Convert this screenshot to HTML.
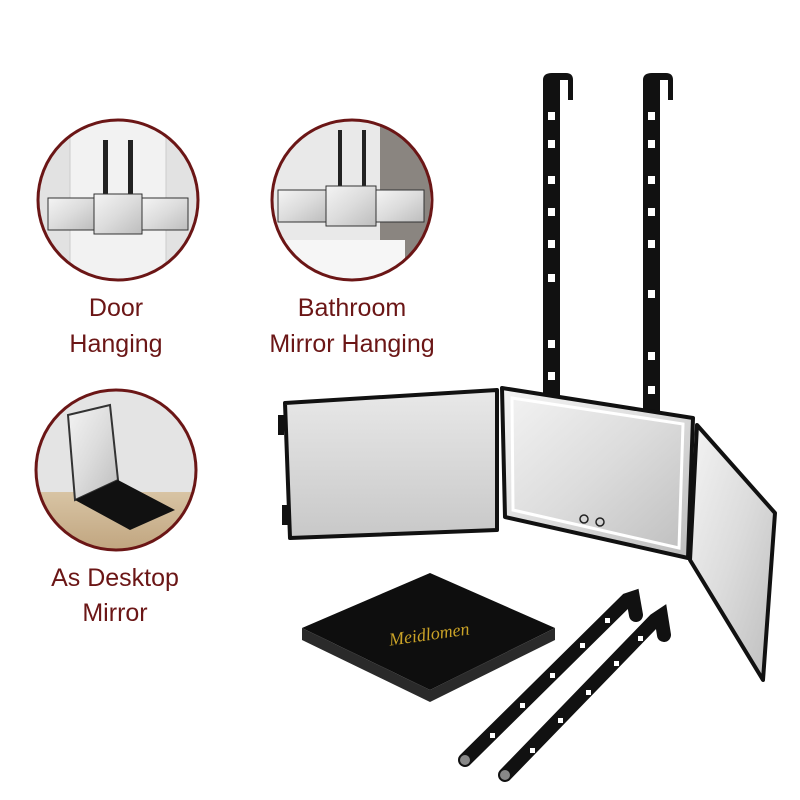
<!DOCTYPE html>
<html><head><meta charset="utf-8"><style>
html,body{margin:0;padding:0;background:#fff;width:800px;height:800px;overflow:hidden}
svg{display:block}
text{font-family:"Liberation Sans",sans-serif;fill:#6b1616;font-size:25px;text-anchor:middle}
</style></head><body>
<svg width="800" height="800" viewBox="0 0 800 800">
<defs>
<linearGradient id="mg" x1="0" y1="0" x2="1" y2="1">
<stop offset="0" stop-color="#f4f4f4"/><stop offset="0.5" stop-color="#dcdcdc"/><stop offset="1" stop-color="#bdbdbd"/></linearGradient>
<linearGradient id="bg1" x1="0" y1="0" x2="0" y2="1">
<stop offset="0" stop-color="#e8e8e8"/><stop offset="1" stop-color="#c8c8c8"/></linearGradient>
<linearGradient id="wood" x1="0" y1="0" x2="0" y2="1">
<stop offset="0" stop-color="#d8c4a4"/><stop offset="1" stop-color="#b89a72"/></linearGradient>
<clipPath id="c1"><circle cx="118" cy="200" r="80"/></clipPath>
<clipPath id="c2"><circle cx="352" cy="200" r="80"/></clipPath>
<clipPath id="c3"><circle cx="116" cy="470" r="80"/></clipPath>
</defs>

<!-- circle 1 -->
<g clip-path="url(#c1)">
<rect x="30" y="110" width="180" height="180" fill="#e2e2e2"/>
<rect x="70" y="120" width="96" height="170" fill="#f2f2f2" stroke="#ccc"/>
<rect x="103" y="140" width="5" height="60" fill="#222"/><rect x="128" y="140" width="5" height="60" fill="#222"/>
<rect x="48" y="198" width="46" height="32" fill="url(#mg)" stroke="#333"/>
<rect x="94" y="194" width="48" height="40" fill="url(#mg)" stroke="#333"/>
<rect x="142" y="198" width="46" height="32" fill="url(#mg)" stroke="#333"/>
</g>
<circle cx="118" cy="200" r="80" fill="none" stroke="#6b1616" stroke-width="3"/>

<!-- circle 2 -->
<g clip-path="url(#c2)">
<rect x="260" y="110" width="180" height="180" fill="#e9e9e9"/>
<rect x="380" y="120" width="50" height="150" fill="#8a8580"/>
<rect x="285" y="240" width="120" height="60" fill="#f6f6f6"/>
<rect x="338" y="130" width="4" height="60" fill="#222"/><rect x="362" y="130" width="4" height="60" fill="#222"/>
<rect x="278" y="190" width="48" height="32" fill="url(#mg)" stroke="#333"/>
<rect x="326" y="186" width="50" height="40" fill="url(#mg)" stroke="#333"/>
<rect x="376" y="190" width="48" height="32" fill="url(#mg)" stroke="#333"/>
</g>
<circle cx="352" cy="200" r="80" fill="none" stroke="#6b1616" stroke-width="3"/>

<!-- circle 3 -->
<g clip-path="url(#c3)">
<rect x="30" y="385" width="180" height="180" fill="#e4e4e4"/>
<rect x="30" y="492" width="180" height="80" fill="url(#wood)"/>
<polygon points="68,415 110,405 118,480 75,500" fill="url(#mg)" stroke="#333" stroke-width="2"/>
<polygon points="75,500 118,480 175,510 130,530" fill="#111"/>
</g>
<circle cx="116" cy="470" r="80" fill="none" stroke="#6b1616" stroke-width="3"/>

<text x="116" y="316">Door</text>
<text x="116" y="352">Hanging</text>
<text x="352" y="316">Bathroom</text>
<text x="352" y="352">Mirror Hanging</text>
<text x="115" y="586">As Desktop</text>
<text x="115" y="621">Mirror</text>

<!-- hanging straps -->
<g fill="#111">
<path d="M543,80 Q543,73 552,73 L566,73 Q573,73 573,80 L573,100 L568,100 L568,80 L560,80 L560,398 L543,398 Z"/>
<path d="M643,80 Q643,73 652,73 L666,73 Q673,73 673,80 L673,100 L668,100 L668,80 L660,80 L660,412 L643,412 Z"/>
</g>
<g fill="#fff">
<rect x="548" y="112" width="7" height="8"/><rect x="548" y="140" width="7" height="8"/><rect x="548" y="176" width="7" height="8"/><rect x="548" y="208" width="7" height="8"/><rect x="548" y="240" width="7" height="8"/><rect x="548" y="274" width="7" height="8"/><rect x="548" y="340" width="7" height="8"/><rect x="548" y="372" width="7" height="8"/>
<rect x="648" y="112" width="7" height="8"/><rect x="648" y="140" width="7" height="8"/><rect x="648" y="176" width="7" height="8"/><rect x="648" y="208" width="7" height="8"/><rect x="648" y="240" width="7" height="8"/><rect x="648" y="290" width="7" height="8"/><rect x="648" y="352" width="7" height="8"/><rect x="648" y="386" width="7" height="8"/>
</g>

<!-- mirror panels -->
<polygon points="285,403 497,390 497,530 290,538" fill="url(#bg1)" stroke="#111" stroke-width="4" stroke-linejoin="round"/>
<rect x="278" y="415" width="6" height="20" fill="#111"/><rect x="282" y="505" width="6" height="20" fill="#111"/>
<polygon points="502,388 693,418 688,558 505,517" fill="url(#mg)" stroke="#111" stroke-width="4" stroke-linejoin="round"/>
<polygon points="512,398 683,424 679,548 513,510" fill="none" stroke="#fff" stroke-width="3"/>
<circle cx="584" cy="519" r="4" fill="none" stroke="#222" stroke-width="1.5"/>
<circle cx="600" cy="522" r="4" fill="none" stroke="#222" stroke-width="1.5"/>
<polygon points="697,425 775,513 763,680 690,560" fill="url(#mg)" stroke="#111" stroke-width="4" stroke-linejoin="round"/>

<!-- black case -->
<polygon points="302,628 430,573 555,628 430,690" fill="#0e0e0e"/>
<polygon points="302,628 302,640 430,702 555,640 555,628 430,690" fill="#2a2a2a"/>
<text x="430" y="640" style="font-family:'Liberation Serif',serif;font-style:italic;font-size:18px;fill:#c9a227" transform="rotate(-8 430 640)">Meidlomen</text>

<!-- loose straps -->
<g stroke="#111" stroke-linecap="round" fill="none">
<path d="M465,760 L627,600 L633,598 L636,615" stroke-width="14"/>
<path d="M505,775 L655,620 L661,616 L664,635" stroke-width="14"/>
</g>
<circle cx="465" cy="760" r="5" fill="#888"/><circle cx="505" cy="775" r="5" fill="#888"/>
<g fill="#fff">
<rect x="490" y="733" width="5" height="5"/><rect x="520" y="703" width="5" height="5"/><rect x="550" y="673" width="5" height="5"/><rect x="580" y="643" width="5" height="5"/><rect x="605" y="618" width="5" height="5"/>
<rect x="530" y="748" width="5" height="5"/><rect x="558" y="718" width="5" height="5"/><rect x="586" y="690" width="5" height="5"/><rect x="614" y="661" width="5" height="5"/><rect x="638" y="636" width="5" height="5"/>
</g>
</svg>
</body></html>
